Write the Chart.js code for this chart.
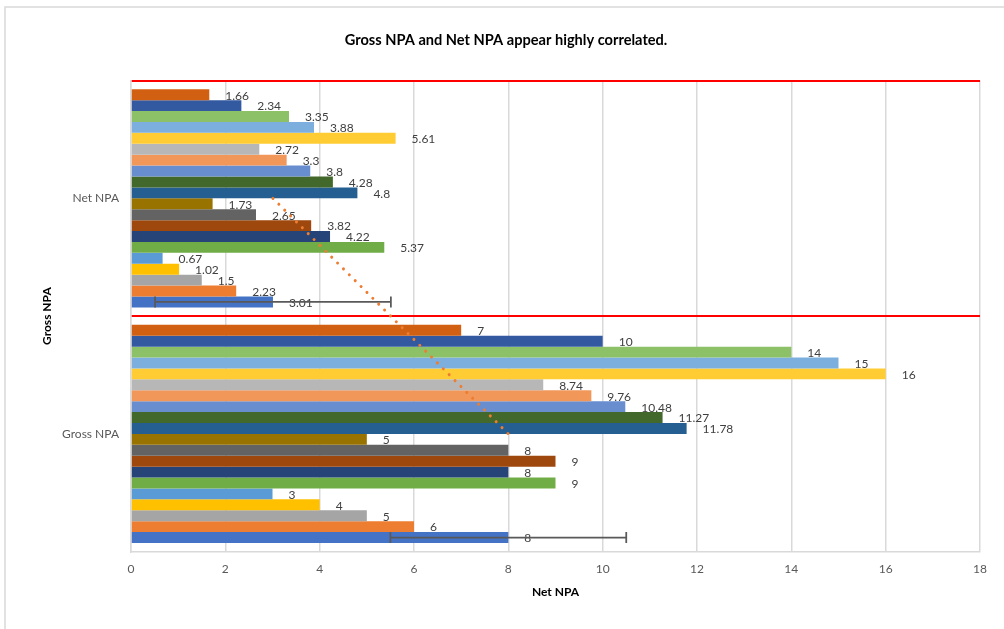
<!DOCTYPE html>
<html><head><meta charset="utf-8">
<script src="https://cdn.jsdelivr.net/npm/chart.js@4/dist/chart.umd.min.js"></script>
<style>html,body{margin:0;padding:0;background:#fff;} #wrap{width:1004px;height:629px;position:relative;}</style>
</head><body><div id="wrap"><canvas id="c" width="1004" height="629"></canvas></div>
<script>
// ---- data (Excel series order: series 1 is drawn at the bottom of each group) ----
const categories = ['Net NPA', 'Gross NPA'];
const seriesNames = ['Series 1','Series 2','Series 3','Series 4','Series 5','Series 6','Series 7','Series 8','Series 9','Series 10',
  'Series 11','Series 12','Series 13','Series 14','Series 15','Series 16','Series 17','Series 18','Series 19','Series 20'];
const netNPA   = [3.01, 2.23, 1.5, 1.02, 0.67, 5.37, 4.22, 3.82, 2.65, 1.73, 4.8, 4.28, 3.8, 3.3, 2.72, 5.61, 3.88, 3.35, 2.34, 1.66];
const grossNPA = [8, 6, 5, 4, 3, 9, 8, 9, 8, 5, 11.78, 11.27, 10.48, 9.76, 8.74, 16, 15, 14, 10, 7];
const seriesColors = ['#4472C4','#ED7D31','#A5A5A5','#FFC000','#5B9BD5','#70AD47','#264478','#9E480E','#636363','#997300',
  '#255E91','#43682B','#698ED0','#F1975A','#B7B7B7','#FFCD33','#7CAFDD','#8CC168','#335AA1','#D26012'];
const errorSeriesIndex = 0;          // error bars and trendline belong to series 1
const errorAmounts = [2.5, 2.5];     // +/- per category for series 1
const xMin = 0, xMax = 18, xStep = 2;
const chartTitle = 'Gross NPA and Net NPA appear highly correlated.';
const xTitle = 'Net NPA';
const yTitle = 'Gross NPA';

const FONT = 'Lato, "Open Sans", sans-serif';

// datasets reversed so the first Excel series sits at the bottom of each category
const datasets = [];
for (let s = seriesNames.length - 1; s >= 0; s--) {
  datasets.push({
    label: seriesNames[s],
    data: [netNPA[s], grossNPA[s]],
    backgroundColor: seriesColors[s],
    borderWidth: 0,
    seriesIndex: s
  });
}

const framePlugin = {
  id: 'frame',
  beforeDraw(chart) {
    const ctx = chart.ctx;
    ctx.save();
    ctx.fillStyle = '#fff';
    ctx.fillRect(0, 0, chart.width, chart.height);
    ctx.strokeStyle = '#D9D9D9';
    ctx.lineWidth = 1.5;
    ctx.strokeRect(5, 7, chart.width + 20, chart.height + 20);
    ctx.restore();
  }
};

const overlayPlugin = {
  id: 'overlay',
  afterDatasetsDraw(chart) {
    const ctx = chart.ctx;
    const xs = chart.scales.x, ys = chart.scales.y;
    // data labels
    ctx.save();
    ctx.font = '12px ' + FONT;
    ctx.fillStyle = '#404040';
    ctx.textAlign = 'left';
    ctx.textBaseline = 'middle';
    chart.data.datasets.forEach((ds, di) => {
      const meta = chart.getDatasetMeta(di);
      meta.data.forEach((el, i) => {
        ctx.fillText(String(ds.data[i]), el.x + 16, el.y + 1);
      });
    });
    ctx.restore();

    // error bars for series 1
    const di = chart.data.datasets.findIndex(d => d.seriesIndex === errorSeriesIndex);
    const meta = chart.getDatasetMeta(di);
    ctx.save();
    ctx.strokeStyle = '#595959';
    ctx.lineWidth = 1.75;
    meta.data.forEach((el, i) => {
      const v = chart.data.datasets[di].data[i];
      const x1 = xs.getPixelForValue(v - errorAmounts[i]);
      const x2 = xs.getPixelForValue(v + errorAmounts[i]);
      const h = el.height / 2;
      ctx.beginPath();
      ctx.moveTo(x1, el.y); ctx.lineTo(x2, el.y);
      ctx.moveTo(x1, el.y - h); ctx.lineTo(x1, el.y + h);
      ctx.moveTo(x2, el.y - h); ctx.lineTo(x2, el.y + h);
      ctx.stroke();
    });
    ctx.restore();

    // linear trendline for series 1 (through its two category points)
    const vals = chart.data.datasets[di].data;
    ctx.save();
    ctx.strokeStyle = '#ED7D31';
    ctx.lineWidth = 3;
    ctx.lineCap = 'round';
    ctx.setLineDash([0.01, 8.3]);
    ctx.beginPath();
    ctx.moveTo(xs.getPixelForValue(vals[0]), ys.getPixelForValue(0));
    ctx.lineTo(xs.getPixelForValue(vals[1]), ys.getPixelForValue(1));
    ctx.stroke();
    ctx.restore();
  }
};

new Chart(document.getElementById('c'), {
  type: 'bar',
  data: { labels: categories, datasets },
  options: {
    indexAxis: 'y',
    responsive: false,
    animation: false,
    devicePixelRatio: 1,
    categoryPercentage: 0.926,
    barPercentage: 1.0,
    layout: { padding: { left: 32, right: 24, top: 0, bottom: 30 } },
    plugins: {
      legend: { display: false },
      tooltip: { enabled: false },
      title: {
        display: true,
        text: chartTitle,
        color: '#000',
        font: { family: FONT, size: 14.6, weight: 'bold' },
        padding: { top: 32, bottom: 31 }
      }
    },
    scales: {
      x: {
        min: xMin, max: xMax,
        afterFit(scale) { scale.height = 47.3; },
        ticks: { stepSize: xStep, color: '#595959', font: { family: FONT, size: 12 }, padding: 10 },
        grid: { color: '#D9D9D9', lineWidth: 1.5, drawTicks: false },
        border: { display: true, color: '#D9D9D9', width: 1.5 },
        title: { display: true, text: xTitle, color: '#000', font: { family: FONT, size: 12, weight: 'bold' }, padding: { top: 0, bottom: 0 } }
      },
      y: {
        afterFit(scale) { scale.width = 99; },
        ticks: { color: '#595959', font: { family: FONT, size: 12 }, padding: 12 },
        grid: {
          offset: true,
          drawTicks: false,
          color: (c) => (c.index === 0 || c.index === 1) ? '#FF0000' : 'rgba(0,0,0,0)',
          lineWidth: 2
        },
        border: { display: true, color: '#D9D9D9', width: 1.5 },
        title: { display: true, text: yTitle, color: '#000', font: { family: FONT, size: 12, weight: 'bold' }, padding: { top: 8, bottom: 0 } }
      }
    }
  },
  plugins: [framePlugin, overlayPlugin]
});
</script></body></html>
